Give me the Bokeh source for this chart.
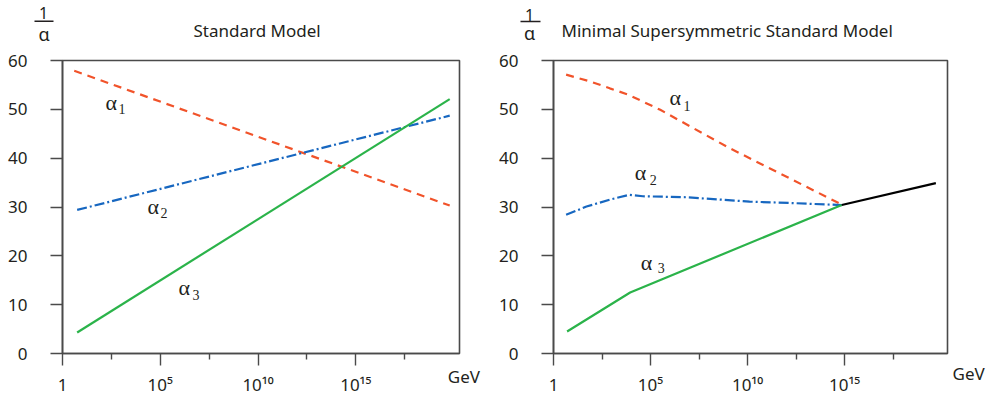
from bokeh.plotting import figure
from bokeh.layouts import row, column
from bokeh.models import Range1d, FixedTicker, Label
from bokeh.core.properties import value
from bokeh.embed import file_html
from bokeh.resources import INLINE

# x values are log10(energy / GeV); y values are 1/alpha
sm_a1_x = [0.6, 19.8]
sm_a1_y = [57.9, 30.3]
sm_a2_x = [0.75, 19.8]
sm_a2_y = [29.4, 48.7]
sm_a3_x = [0.75, 19.8]
sm_a3_y = [4.3, 52.1]

mssm_a1_x = [0.65, 1.9, 2.9, 3.85, 5.5, 9.0, 14.85]
mssm_a1_y = [57.1, 55.7, 54.3, 53.0, 49.9, 42.2, 30.5]
mssm_a2_x = [0.65, 1.7, 2.9, 3.9, 4.6, 6.8, 10.1, 12.3, 14.85]
mssm_a2_y = [28.4, 30.1, 31.5, 32.5, 32.2, 32.0, 31.1, 30.8, 30.4]
mssm_a3_x = [0.7, 3.95, 14.85]
mssm_a3_y = [4.5, 12.5, 30.4]
mssm_unif_x = [14.85, 19.7]
mssm_unif_y = [30.4, 34.9]

y_ticks = [0, 10, 20, 30, 40, 50, 60]
x_ticks = [0, 5, 10, 15]
x_minor_ticks = [2.5, 7.5, 12.5, 17.5]
x_tick_labels = ["1", "10\u2075", "10\u00b9\u2070", "10\u00b9\u2075"]

panel_titles = ["Standard Model", "Minimal Supersymmetric Standard Model"]
y_title_num = "1"
y_title_den = "\u03b1"
x_unit = "GeV"
curve_names = ["\u03b1", "1", "2", "3"]

RED = "#f1532a"
BLUE = "#1767c0"
GREEN = "#2bb34a"
INK = "#231f20"
FRAME = "#4a4a4a"
SANS = "Noto Sans"
SERIF = "Liberation Serif"

# ---------------- header strip (titles and the 1/alpha labels) ----------------
head = figure(width=996, height=50, output_backend="svg", toolbar_location=None,
              x_range=Range1d(0, 996), y_range=Range1d(50, 0),
              x_axis_type=None, y_axis_type=None, min_border=0)
head.grid.visible = False
head.outline_line_color = None
head.background_fill_color = "white"
head.border_fill_color = "white"

head.text([193, 561], [30, 30], text=panel_titles, text_font=value(SANS), text_font_size="17px",
          text_color=INK, text_baseline="middle", text_align="left")
head.text([43, 529], [12.5, 14.5], text=[y_title_num, y_title_num], text_font=value(SANS),
          text_font_size="16px", text_color=INK, text_baseline="middle", text_align="center")
head.segment([34, 520], [20.8, 21.0], [53, 540], [20.8, 21.0], line_color=INK, line_width=1.4)
head.text([43.5, 529], [33, 32.5], text=[y_title_den, y_title_den], text_font=value(SANS),
          text_font_size="18px", text_color=INK, text_baseline="middle", text_align="center")


def make_panel(width, border_left, border_right):
    p = figure(width=width, height=348, output_backend="svg", toolbar_location=None,
               x_range=Range1d(0, 20.3), y_range=Range1d(0, 60),
               min_border_left=border_left, min_border_right=border_right,
               min_border_top=10, min_border_bottom=44)
    p.grid.visible = False
    p.outline_line_color = FRAME
    p.outline_line_width = 1.6
    p.background_fill_color = "white"
    p.border_fill_color = "white"

    xa = p.xaxis[0]
    xa.ticker = FixedTicker(ticks=x_ticks, minor_ticks=x_minor_ticks)
    xa.major_label_overrides = {t: s for t, s in zip(x_ticks, x_tick_labels)}
    xa.axis_line_color = FRAME
    xa.axis_line_width = 1.6
    xa.major_tick_line_color = FRAME
    xa.minor_tick_line_color = FRAME
    xa.major_tick_line_width = 1.4
    xa.minor_tick_line_width = 1.4
    xa.major_tick_in = 0
    xa.major_tick_out = 12
    xa.minor_tick_in = 0
    xa.minor_tick_out = 6
    xa.major_label_standoff = 7
    xa.major_label_text_font = SANS
    xa.major_label_text_font_size = "17px"
    xa.major_label_text_color = INK

    ya = p.yaxis[0]
    ya.ticker = FixedTicker(ticks=y_ticks, minor_ticks=[])
    ya.axis_line_color = FRAME
    ya.axis_line_width = 1.6
    ya.major_tick_line_color = FRAME
    ya.major_tick_line_width = 1.4
    ya.major_tick_in = 0
    ya.major_tick_out = 12
    ya.minor_tick_line_color = None
    ya.major_label_standoff = 23
    ya.major_label_text_font = SANS
    ya.major_label_text_font_size = "17px"
    ya.major_label_text_color = INK
    return p


def alpha_label(p, x, y, sub, dx=13, dy=6):
    p.text([x], [y], text=[curve_names[0]], text_font=value(SERIF), text_font_size="22px",
           text_color=INK, text_baseline="middle", text_align="left")
    p.text([x], [y], text=[sub], text_font=value(SERIF), text_font_size="14px",
           text_color=INK, text_baseline="middle", text_align="left", x_offset=dx, y_offset=dy)


def unit_label(p, gev_x, gev_y):
    # kept in the right side panel so that it is not clipped to the frame
    p.add_layout(Label(x=gev_x, y=gev_y, text=x_unit, text_font=SANS, text_font_size="17px",
                       text_color=INK, text_baseline="middle", text_align="left"), "right")


# ---- Standard Model ----
p1 = make_panel(496, 62, 37)
p1.line(sm_a1_x, sm_a1_y, line_color=RED, line_width=2.2, line_dash="8 6")
p1.line(sm_a2_x, sm_a2_y, line_color=BLUE, line_width=2.2, line_dash="10 3 2 3")
p1.line(sm_a3_x, sm_a3_y, line_color=GREEN, line_width=2.2)
alpha_label(p1, 2.2, 51.3, curve_names[1])
alpha_label(p1, 4.35, 30.1, curve_names[2])
alpha_label(p1, 5.93, 13.5, curve_names[3], dx=14, dy=7)
unit_label(p1, 19.7, -4.8)

# ---- MSSM ----
p2 = make_panel(500, 54, 49)
p2.line(mssm_a1_x, mssm_a1_y, line_color=RED, line_width=2.2, line_dash="8 6")
p2.line(mssm_a2_x, mssm_a2_y, line_color=BLUE, line_width=2.2, line_dash="10 3 2 3")
p2.line(mssm_a3_x, mssm_a3_y, line_color=GREEN, line_width=2.2)
p2.line(mssm_unif_x, mssm_unif_y, line_color="black", line_width=2.2)
alpha_label(p2, 5.98, 52.4, curve_names[1], dx=14, dy=8)
alpha_label(p2, 4.19, 37.0, curve_names[2], dx=15, dy=7)
alpha_label(p2, 4.5, 18.6, curve_names[3], dx=17, dy=5)
unit_label(p2, 20.56, -4.1)

layout = column(head, row(p1, p2))
open("out.html", "w").write(file_html(layout, INLINE))
